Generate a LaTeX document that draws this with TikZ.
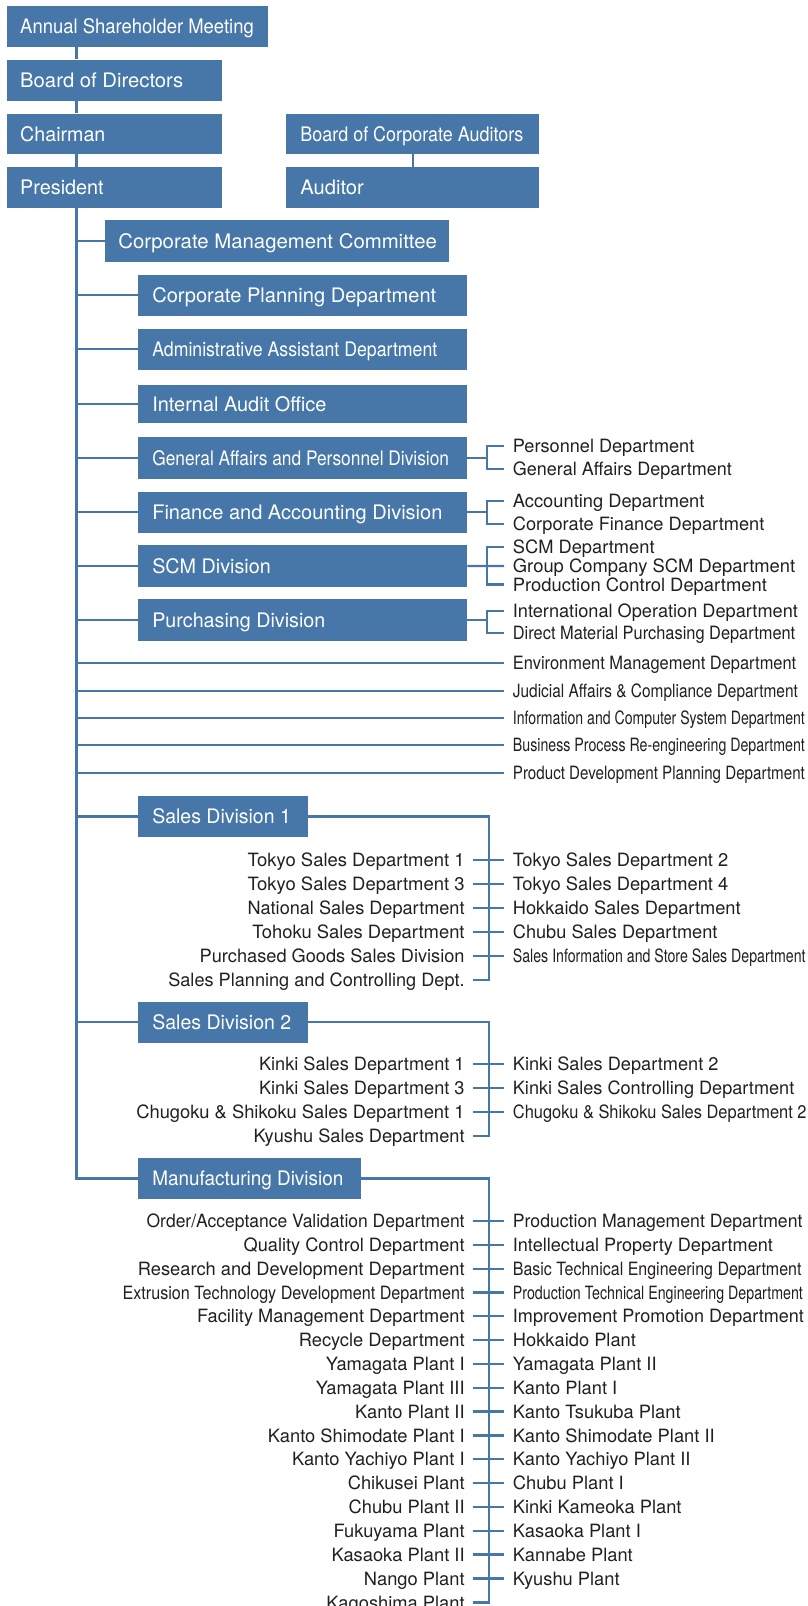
\documentclass[tikz,border=0pt]{standalone}
\usepackage{fontspec}
\setmainfont{TeX Gyre Heros}
\usepackage{graphicx}
\definecolor{orgblue}{RGB}{70,119,168}
\definecolor{ink}{RGB}{35,31,32}

% set a label at a given width (horizontal scaling only); empty width = natural
\newsavebox\fitbox
\newcommand\fitto[2]{\sbox\fitbox{#2}\ifx\relax#1\relax\usebox\fitbox\else
  \edef\fitw{\the\wd\fitbox}\pgfmathsetmacro\fitr{#1/\fitw}\scalebox{\fitr}[1]{\usebox\fitbox}\fi}

\tikzset{
  link/.style={draw=orgblue, line width=2.3pt},
  unitbox/.style={fill=orgblue, draw=none, inner sep=0pt, anchor=north west},
  boxlabel/.style={anchor=west, inner sep=0pt, text=white,
    font=\fontsize{20}{22}\selectfont, text height=14.4pt, text depth=0pt},
  itemtext/.style={inner sep=0pt, text=ink,
    font=\fontsize{18.3}{20}\selectfont, text height=13.1pt, text depth=0pt},
  ltext/.style={itemtext, anchor=east},
  rtext/.style={itemtext, anchor=west},
}

% name, x, y, width, height, text indent, text width, text
\newcommand\orgbox[8]{%
  \node[unitbox, minimum width=#4, minimum height=#5] (#1) at (#2,#3) {};
  \node[boxlabel] (#1-l) at ([xshift=#6]#1.west) {\fitto{#7}{#8}};}
% name, y, text width, text
\newcommand\litem[4]{\node[ltext] (#1) at (464.8,#2) {\fitto{#3}{#4}};}
\newcommand\ritem[4]{\node[rtext] (#1) at (512.7,#2) {\fitto{#3}{#4}};}

\begin{document}
\begin{tikzpicture}[x=1pt, y=-1pt]
\useasboundingbox (0,0) rectangle (808,1606);
\fill[white] (0,0) rectangle (808,1606);
\clip (0,0) rectangle (808,1606);

% guide positions for the vertical lines
\coordinate (trunk) at (76.5,0);
\coordinate (bra) at (487,0);
\coordinate (brs) at (489,0);

% governing bodies
\orgbox{asm}{7}{5.7}{260.3}{41}{13}{233.6}{Annual Shareholder Meeting}
\orgbox{bod}{7}{59.3}{215}{41}{13}{163}{Board of Directors}
\orgbox{chm}{7}{113.3}{215}{40.7}{13}{85.2}{Chairman}
\orgbox{pres}{7}{166.7}{215}{40.6}{13}{83.5}{President}
\orgbox{boca}{286.2}{113.3}{253}{40.7}{14}{223}{Board of Corporate Auditors}
\orgbox{aud}{286.2}{166.7}{253}{40.6}{14}{63.5}{Auditor}

% units under the president
\orgbox{cmc}{105.2}{220}{344}{41.7}{13}{318.5}{Corporate Management Committee}
\orgbox{cpd}{138.1}{274.3}{328.8}{41.4}{14}{284}{Corporate Planning Department}
\orgbox{aad}{138.1}{328.3}{328.8}{41.4}{14}{285}{Administrative Assistant Department}
\orgbox{iao}{138.1}{385}{328.8}{38}{14}{174.2}{Internal Audit Office}
\orgbox{gapd}{138.1}{437}{328.8}{41.7}{14}{296.8}{General Affairs and Personnel Division}
\orgbox{fad}{138.1}{491.3}{328.8}{41.4}{14}{290.1}{Finance and Accounting Division}
\orgbox{scm}{138.1}{545}{328.8}{41.7}{14}{118.5}{SCM Division}
\orgbox{pur}{138.1}{599}{328.8}{41.7}{14}{173}{Purchasing Division}
\orgbox{sd1}{138.1}{796}{169.5}{40.7}{14}{138.6}{Sales Division 1}
\orgbox{sd2}{138.1}{1001.7}{169.5}{40.6}{14}{139}{Sales Division 2}
\orgbox{mfg}{138.1}{1157.7}{222.5}{41}{14}{191}{Manufacturing Division}

% departments of the divisions
\ritem{g1}{445.7}{181.4}{Personnel Department}
\ritem{g2}{468.7}{219}{General Affairs Department}
\ritem{f1}{501.3}{}{Accounting Department}
\ritem{f2}{523.7}{251.5}{Corporate Finance Department}
\ritem{s1}{547.3}{141.7}{SCM Department}
\ritem{s2}{566}{282.4}{Group Company SCM Department}
\ritem{s3}{584.5}{254}{Production Control Department}
\ritem{p1}{610.7}{285}{International Operation Department}
\ritem{p2}{633.3}{282.4}{Direct Material Purchasing Department}
\ritem{env}{662.7}{283.4}{Environment Management Department}
\ritem{jud}{690.7}{285}{Judicial Affairs \& Compliance Department}
\ritem{ics}{717.7}{292}{Information and Computer System Department}
\ritem{bpr}{745.3}{292}{Business Process Re-engineering Department}
\ritem{pdp}{772.7}{292}{Product Development Planning Department}

% sales division 1
\litem{a1}{860}{217}{Tokyo Sales Department 1}
\litem{a2}{884.2}{217}{Tokyo Sales Department 3}
\litem{a3}{908.2}{217}{National Sales Department}
\litem{a4}{932.2}{212.3}{Tohoku Sales Department}
\litem{a5}{956}{264.9}{Purchased Goods Sales Division}
\litem{a6}{980}{296.3}{Sales Planning and Controlling Dept.}
\ritem{b1}{860}{215.4}{Tokyo Sales Department 2}
\ritem{b2}{884.2}{215.4}{Tokyo Sales Department 4}
\ritem{b3}{908.2}{227.8}{Hokkaido Sales Department}
\ritem{b4}{932.2}{204.6}{Chubu Sales Department}
\ritem{b5}{956}{292.7}{Sales Information and Store Sales Department}

% sales division 2
\litem{c1}{1064}{205.6}{Kinki Sales Department 1}
\litem{c2}{1088}{205.6}{Kinki Sales Department 3}
\litem{c3}{1112}{328.3}{Chugoku \& Shikoku Sales Department 1}
\litem{c4}{1136}{211}{Kyushu Sales Department}
\ritem{d1}{1064}{205.6}{Kinki Sales Department 2}
\ritem{d2}{1088}{281.4}{Kinki Sales Controlling Department}
\ritem{d3}{1112}{293.7}{Chugoku \& Shikoku Sales Department 2}

% manufacturing division
\litem{m1}{1221}{318}{Order/Acceptance Validation Department}
\litem{m2}{1244.8}{221}{Quality Control Department}
\litem{m3}{1268.7}{326.7}{Research and Development Department}
\litem{m4}{1292.5}{342}{Extrusion Technology Development Department}
\litem{m5}{1316.3}{267.4}{Facility Management Department}
\litem{m6}{1340.2}{}{Recycle Department}
\litem{m7}{1364}{}{Yamagata Plant I}
\litem{m8}{1387.8}{}{Yamagata Plant III}
\litem{m9}{1411.6}{}{Kanto Plant II}
\litem{m10}{1435.5}{}{Kanto Shimodate Plant I}
\litem{m11}{1459.3}{}{Kanto Yachiyo Plant I}
\litem{m12}{1483.1}{}{Chikusei Plant}
\litem{m13}{1507}{}{Chubu Plant II}
\litem{m14}{1530.8}{}{Fukuyama Plant}
\litem{m15}{1554.6}{}{Kasaoka Plant II}
\litem{m16}{1578.5}{}{Nango Plant}
\litem{m17}{1602.5}{}{Kagoshima Plant}
\ritem{n1}{1221}{289.6}{Production Management Department}
\ritem{n2}{1244.8}{260}{Intellectual Property Department}
\ritem{n3}{1268.7}{288.6}{Basic Technical Engineering Department}
\ritem{n4}{1292.5}{290}{Production Technical Engineering Department}
\ritem{n5}{1316.3}{291}{Improvement Promotion Department}
\ritem{n6}{1340.2}{}{Hokkaido Plant}
\ritem{n7}{1364}{}{Yamagata Plant II}
\ritem{n8}{1387.8}{}{Kanto Plant I}
\ritem{n9}{1411.6}{}{Kanto Tsukuba Plant}
\ritem{n10}{1435.5}{}{Kanto Shimodate Plant II}
\ritem{n11}{1459.3}{}{Kanto Yachiyo Plant II}
\ritem{n12}{1483.1}{}{Chubu Plant I}
\ritem{n13}{1507}{}{Kinki Kameoka Plant}
\ritem{n14}{1530.8}{}{Kasaoka Plant I}
\ritem{n15}{1554.6}{}{Kannabe Plant}
\ritem{n16}{1578.5}{}{Kyushu Plant}

% chain of command
\draw[link] (asm.south -| trunk) -- (bod.north -| trunk);
\draw[link] (bod.south -| trunk) -- (chm.north -| trunk);
\draw[link] (chm.south -| trunk) -- (pres.north -| trunk);
\draw[link] (boca.south) -- (aud.north);
\draw[link] (pres.south -| trunk) |- (mfg.west);
\foreach \n in {cmc,cpd,aad,iao,gapd,fad,scm,pur,sd1,sd2}
  \draw[link] (\n.west -| trunk) -- (\n.west);
\foreach \n in {env,jud,ics,bpr,pdp}
  \draw[link] (\n.west -| trunk) -- ([xshift=-8.7]\n.west);

% brackets to the departments
\draw[link] (gapd.east) -- (gapd.east -| bra);
\draw[link] ([xshift=-8.7]g1.west) -| (g2.west -| bra) -- ([xshift=-8.7]g2.west);
\draw[link] (fad.east) -- (fad.east -| bra);
\draw[link] ([xshift=-8.7]f1.west) -| (f2.west -| bra) -- ([xshift=-8.7]f2.west);
\draw[link] (scm.east) -- ([xshift=-8.7]s2.west);
\draw[link] ([xshift=-8.7]s1.west) -| (s3.west -| bra) -- ([xshift=-8.7]s3.west);
\draw[link] (pur.east) -- (pur.east -| bra);
\draw[link] ([xshift=-8.7]p1.west) -| (p2.west -| bra) -- ([xshift=-8.7]p2.west);

% sales and manufacturing spines
\draw[link] (sd1.east) -| (a6.east -| brs) -- ([xshift=8.2]a6.east);
\foreach \i in {1,...,5}
  \draw[link] ([xshift=8.2]a\i.east) -- ([xshift=-8.7]b\i.west);
\draw[link] (sd2.east) -| (c4.east -| brs) -- ([xshift=8.2]c4.east);
\foreach \i in {1,...,3}
  \draw[link] ([xshift=8.2]c\i.east) -- ([xshift=-8.7]d\i.west);
\draw[link] (mfg.east) -| (m17.east -| brs) -- ([xshift=8.2]m17.east);
\foreach \i in {1,...,16}
  \draw[link] ([xshift=8.2]m\i.east) -- ([xshift=-8.7]n\i.west);
\end{tikzpicture}
\end{document}
